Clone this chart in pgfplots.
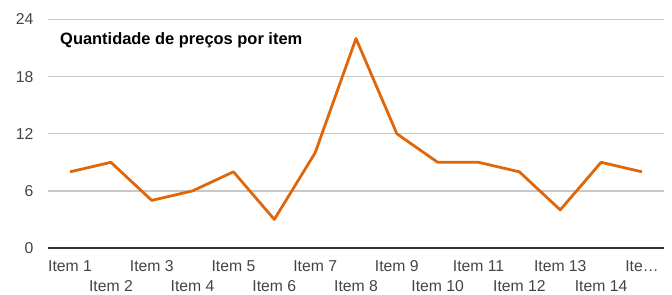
\documentclass[border=0pt]{standalone}
\usepackage{fontspec}
\setmainfont{Liberation Sans}
\usepackage{pgfplots}
\pgfplotsset{compat=1.18}
\definecolor{lineor}{RGB}{224,102,10}
\definecolor{gridg}{RGB}{200,200,200}
\definecolor{txt}{RGB}{68,68,68}
\begin{document}
\begin{tikzpicture}
\begin{axis}[
  at={(48bp,47bp)}, anchor=south west,
  scale only axis, width=616bp, height=228.5bp,
  xmin=0.46, xmax=15.54, ymin=0, ymax=24,
  ytick={0,6,12,18,24},
  xtick={1,3,5,7,9,11,13,15},
  xticklabels={Item 1,Item 3,Item 5,Item 7,Item 9,Item 11,Item 13,Ite…},
  extra x ticks={2,4,6,8,10,12,14},
  extra x tick labels={Item 2,Item 4,Item 6,Item 8,Item 10,Item 12,Item 14},
  extra x tick style={grid=none, xticklabel style={yshift=-20bp}},
  axis x line*=bottom, axis y line*=left,
  y axis line style={draw=none},
  x axis line style={draw=black!80, line width=2pt, -},
  major tick length=0pt,
  ymajorgrids, xmajorgrids=false,
  grid style={gridg, line width=1.5pt},
  tick label style={font=\fontsize{15.8}{18}\selectfont, text=txt},
  xticklabel style={yshift=-9bp},
  yticklabel style={xshift=-11bp},
  /pgf/number format/assume math mode=true,
  clip=false,
]
\addplot[lineor, line width=2.8pt, line join=round] coordinates {
(1,8)(2,9)(3,5)(4,6)(5,8)(6,3)(7,10)(8,22)(9,12)(10,9)(11,9)(12,8)(13,4)(14,9)(15,8)};
\node[anchor=west, font=\bfseries\fontsize{16.5}{18}\selectfont, inner sep=0pt] at (rel axis cs:0.0195,0.91) {Quantidade de preços por item};
\end{axis}
\pgfresetboundingbox
\path (0,0) rectangle (672bp,295bp);
\end{tikzpicture}
\end{document}
